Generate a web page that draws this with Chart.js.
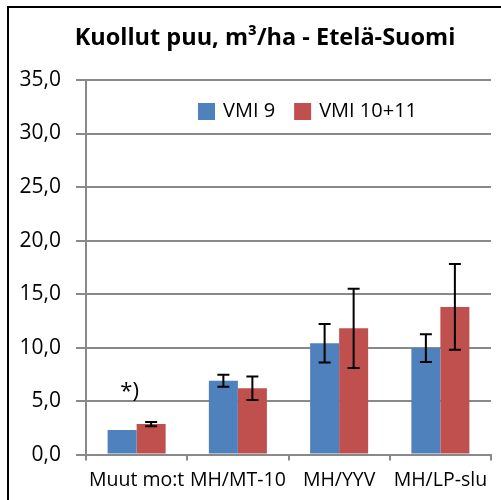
<!DOCTYPE html>
<html>
<head>
<meta charset="utf-8">
<script src="https://cdn.jsdelivr.net/npm/chart.js@4"></script>
<style>
  html, body { margin: 0; padding: 0; background: #fff; overflow: hidden; }
  #wrap { position: relative; width: 501px; height: 500px; }
  #frame { position: absolute; left: 7px; top: 6px; width: 520px; height: 520px; border: 2px solid #000; box-sizing: border-box; pointer-events: none; }
  canvas { position: absolute; left: 0; top: 0; }
</style>
</head>
<body>
<div id="wrap">
  <canvas id="chart" width="501" height="500"></canvas>
  <div id="frame"></div>
</div>
<script>
const chartTitle = 'Kuollut puu, m³/ha - Etelä-Suomi';
const categories = ['Muut mo:t', 'MH/MT-10', 'MH/YYV', 'MH/LP-slu'];
const seriesNames = ['VMI 9', 'VMI 10+11'];
const vmi9 = [2.3, 6.9, 10.4, 9.95];
const vmi1011 = [2.85, 6.2, 11.8, 13.8];
const vmi9Err = [null, 0.55, 1.8, 1.3];
const vmi1011Err = [0.2, 1.1, 3.7, 4.0];
const yTicks = [0, 5, 10, 15, 20, 25, 30, 35];
const noteText = '*)';

const blue = '#4F81BD';
const red = '#C0504D';
const gridColor = '#898989';
const font = 'Open Sans';

// error bars
const errorBars = {
    id: 'errorBars',
    afterDatasetsDraw(chart) {
        const ctx = chart.ctx;
        const y = chart.scales.y;
        ctx.save();
        ctx.strokeStyle = '#000';
        ctx.lineWidth = 2;
        chart.data.datasets.forEach((ds, di) => {
            const meta = chart.getDatasetMeta(di);
            meta.data.forEach((bar, i) => {
                const e = ds.errors[i];
                if (e == null) return;
                const v = ds.data[i];
                const top = y.getPixelForValue(v + e);
                const bot = y.getPixelForValue(v - e);
                ctx.beginPath();
                ctx.moveTo(bar.x, top);
                ctx.lineTo(bar.x, bot);
                ctx.moveTo(bar.x - 6, top);
                ctx.lineTo(bar.x + 6, top);
                ctx.moveTo(bar.x - 6, bot);
                ctx.lineTo(bar.x + 6, bot);
                ctx.stroke();
            });
        });
        ctx.restore();
    }
};

// title (centred on the full frame), legend inside the plot, *) note
const extras = {
    id: 'extras',
    afterDraw(chart) {
        const ctx = chart.ctx;
        ctx.save();
        ctx.fillStyle = '#000';
        ctx.textBaseline = 'middle';
        ctx.textAlign = 'center';
        ctx.font = 'bold 23.5px "' + font + '"';
        ctx.fillText(chartTitle, 265, 38);

        ctx.font = '20px "' + font + '"';
        ctx.textAlign = 'left';
        let x = 198;
        const cy = 111.5;
        chart.data.datasets.forEach(ds => {
            ctx.fillStyle = ds.backgroundColor;
            ctx.fillRect(x, cy - 8.5, 17, 17);
            ctx.fillStyle = '#000';
            ctx.fillText(ds.label, x + 25, cy);
            x += 25 + ctx.measureText(ds.label).width + 19;
        });

        const xs = chart.scales.x;
        const ys = chart.scales.y;
        ctx.font = '22px "' + font + '"';
        ctx.textAlign = 'center';
        ctx.fillText(noteText, xs.getPixelForValue(0) - 7, ys.getPixelForValue(5.9));
        ctx.restore();
    }
};

new Chart(document.getElementById('chart'), {
    type: 'bar',
    data: {
        labels: categories,
        datasets: [
            { label: seriesNames[0], data: vmi9, errors: vmi9Err, backgroundColor: blue },
            { label: seriesNames[1], data: vmi1011, errors: vmi1011Err, backgroundColor: red }
        ]
    },
    options: {
        responsive: false,
        animation: false,
        datasets: { bar: { categoryPercentage: 0.573, barPercentage: 1.0 } },
        layout: { padding: { top: 80, right: 10, bottom: 0, left: 0 } },
        plugins: {
            legend: { display: false },
            tooltip: { enabled: false },
            title: { display: false }
        },
        scales: {
            x: {
                grid: { drawOnChartArea: false, color: gridColor, lineWidth: 2, tickLength: 6 },
                border: { color: gridColor, width: 2 },
                ticks: {
                    color: '#000',
                    padding: 8,
                    autoSkip: false,
                    minRotation: 0,
                    maxRotation: 0,
                    font: { family: font, size: 19.5 }
                }
            },
            y: {
                min: 0,
                max: 35,
                afterFit(scale) { scale.width = 86; },
                afterBuildTicks(scale) { scale.ticks = yTicks.map(v => ({ value: v })); },
                grid: { color: gridColor, lineWidth: 2, tickLength: 10 },
                border: { color: gridColor, width: 2 },
                ticks: {
                    color: '#000',
                    padding: 15,
                    font: { family: font, size: 21 },
                    callback: v => v.toFixed(1).replace('.', ',')
                }
            }
        }
    },
    plugins: [errorBars, extras]
});
</script>
</body>
</html>
